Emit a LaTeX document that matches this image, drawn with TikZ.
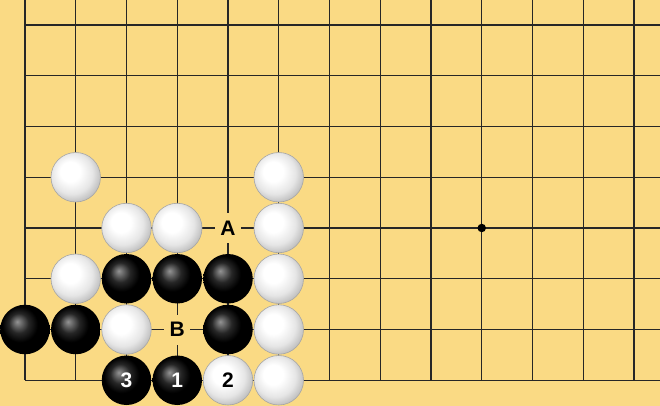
\documentclass[tikz,border=0pt]{standalone}
\usepackage{fontspec}
\setmainfont{Liberation Sans}
\definecolor{board}{RGB}{250,218,132}
\pgfdeclareradialshading{bstone}{\pgfpoint{-8bp}{8bp}}{color(0bp)=(black!42); color(3bp)=(black!55); color(10bp)=(black!85); color(18bp)=(black); color(50bp)=(black)}
\pgfdeclareradialshading{wstone}{\pgfpoint{-7bp}{7bp}}{color(0bp)=(white); color(10bp)=(white); color(21bp)=(black!10); color(29bp)=(black!26); color(36bp)=(black!38); color(50bp)=(black!38)}
\tikzset{
  gridline/.style={line width=1.4pt, draw=black!85},
  stonebase/.style={circle, minimum size=49.5pt, inner sep=0pt, font=\fontsize{21}{21}\selectfont\bfseries},
  bst/.style={stonebase, shade, shading=bstone, text=white},
  wst/.style={stonebase, shade, shading=wstone, text=black, draw=black!35, line width=0.6pt},
  marklabel/.style={fill=board, minimum width=26pt, minimum height=30pt, inner sep=0pt, font=\fontsize{21}{21}\selectfont\bfseries},
  starpt/.style={circle, fill=black, minimum size=8.5pt, inner sep=0pt}
}
\begin{document}
\begin{tikzpicture}[x=50.75pt, y=-50.75pt]
\useasboundingbox (-0.4926,-0.4926) rectangle (12.5123,7.5074);
\fill[board] (-0.4926,-0.4926) rectangle (12.5123,7.5074);
\foreach \i in {0,...,12} \draw[gridline] (\i,-0.4926) -- (\i,7);
\foreach \j in {0,...,7} \draw[gridline] (0,\j) -- (12.5123,\j);
\node[starpt] (star) at (9,4) {};
% labels
\node[marklabel] (A) at (4,4) {A};
\node[marklabel] (B) at (3,6) {B};
% white stones
\node[wst] (w1) at (1,3) {};
\node[wst] (w2) at (5,3) {};
\node[wst] (w3) at (2,4) {};
\node[wst] (w4) at (3,4) {};
\node[wst] (w5) at (5,4) {};
\node[wst] (w6) at (1,5) {};
\node[wst] (w7) at (5,5) {};
\node[wst] (w8) at (2,6) {};
\node[wst] (w9) at (5,6) {};
\node[wst] (w10) at (4,7) {2};
\node[wst] (w11) at (5,7) {};
% black stones
\node[bst] (b1) at (2,5) {};
\node[bst] (b2) at (3,5) {};
\node[bst] (b3) at (4,5) {};
\node[bst] (b4) at (0,6) {};
\node[bst] (b5) at (1,6) {};
\node[bst] (b6) at (4,6) {};
\node[bst] (b7) at (2,7) {3};
\node[bst] (b8) at (3,7) {1};
\end{tikzpicture}
\end{document}
